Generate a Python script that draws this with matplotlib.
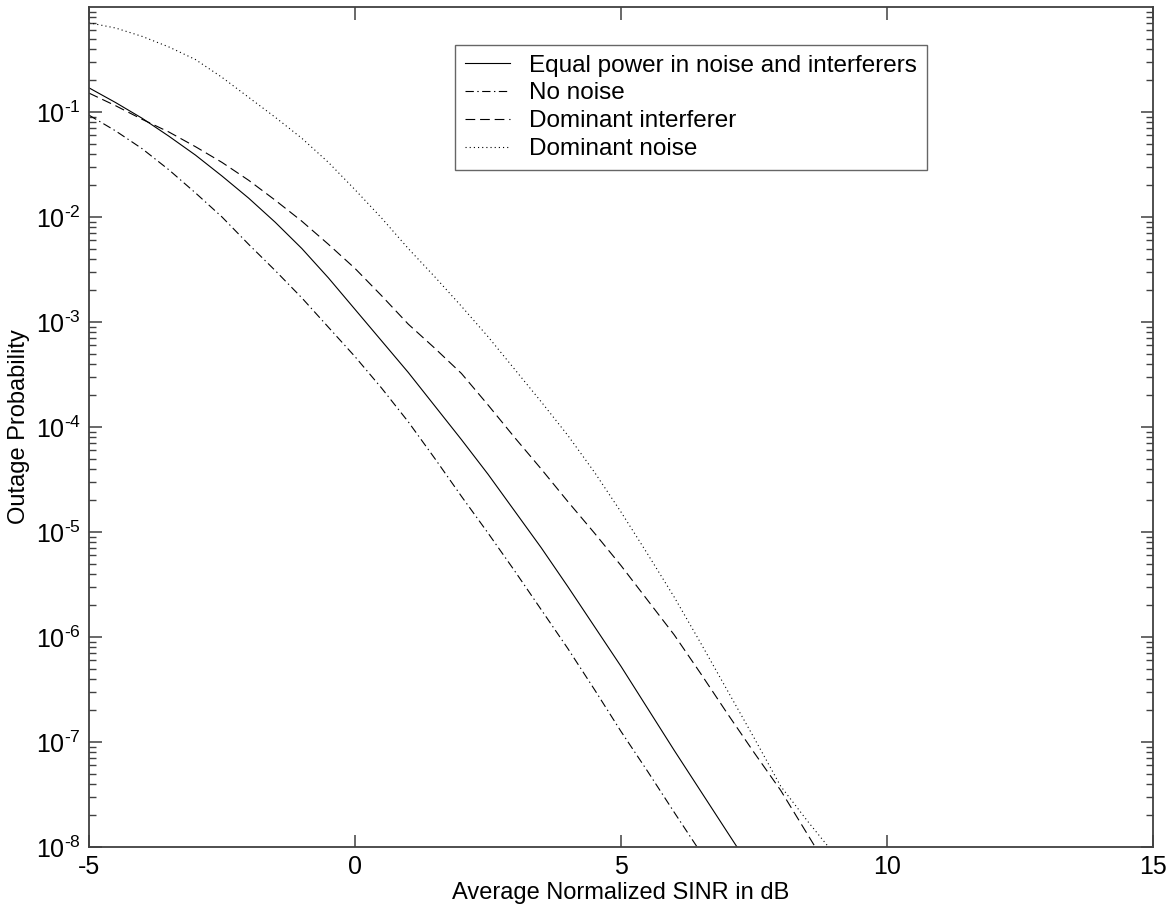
import numpy as np
import matplotlib
matplotlib.use("Agg")
import matplotlib.pyplot as plt
from matplotlib.ticker import LogLocator, NullFormatter, FixedLocator, FuncFormatter

plt.rcParams['font.family'] = ['Liberation Sans', 'DejaVu Sans']
plt.rcParams['mathtext.fontset'] = 'custom'
plt.rcParams['mathtext.rm'] = 'Liberation Sans'
plt.rcParams['axes.unicode_minus'] = False
plt.rcParams['lines.scale_dashes'] = False

# Average normalized SINR (dB) and log10(outage probability)
snr_equal = [-5, -4.5, -4, -3.5, -3, -2.5, -2, -1.5, -1, -0.5, 0, 0.5, 1, 1.5,
             2, 2.5, 3, 3.5, 4, 4.5, 5, 5.5, 6, 6.5, 7, 7.18]
logp_equal = [-0.77, -0.91, -1.06, -1.23, -1.41, -1.61, -1.82, -2.05, -2.30,
              -2.58, -2.88, -3.18, -3.48, -3.80, -4.12, -4.45, -4.80, -5.15,
              -5.52, -5.90, -6.28, -6.68, -7.08, -7.47, -7.86, -8.0]

snr_nonoise = [-5, -4.5, -4, -3.5, -3, -2.5, -2, -1.5, -1, -0.5, 0, 0.5, 1, 1.5,
               2, 2.5, 3, 3.5, 4, 4.5, 5, 5.5, 6, 6.43]
logp_nonoise = [-1.03, -1.18, -1.35, -1.55, -1.77, -2.00, -2.26, -2.51, -2.77,
                -3.05, -3.33, -3.63, -3.95, -4.30, -4.66, -5.01, -5.37, -5.74,
                -6.11, -6.50, -6.90, -7.28, -7.67, -8.0]

snr_interf = [-5, -4.5, -4, -3.5, -3, -2.5, -2, -1.5, -1, -0.5, 0, 0.5, 1, 1.5,
              2, 2.5, 3, 3.5, 4, 4.5, 5, 5.5, 6, 6.5, 7, 7.5, 8, 8.65]
logp_interf = [-0.82, -0.94, -1.07, -1.19, -1.33, -1.48, -1.65, -1.84, -2.04,
               -2.26, -2.49, -2.75, -3.02, -3.25, -3.49, -3.79, -4.10, -4.40,
               -4.71, -5.01, -5.32, -5.65, -5.98, -6.35, -6.73, -7.10, -7.46, -8.0]

snr_noise = [-5, -4.5, -4, -3.5, -3, -2.5, -2, -1.5, -1, -0.5, 0, 0.5, 1, 1.5,
             2, 2.5, 3, 3.5, 4, 4.5, 5, 5.5, 6, 6.5, 7, 7.5, 8, 8.5, 8.9]
logp_noise = [-0.15, -0.20, -0.28, -0.38, -0.50, -0.67, -0.86, -1.05, -1.25,
              -1.48, -1.74, -2.01, -2.30, -2.57, -2.85, -3.14, -3.45, -3.76,
              -4.08, -4.43, -4.81, -5.21, -5.62, -6.06, -6.51, -6.96, -7.42,
              -7.75, -8.0]

labels = ["Equal power in noise and interferers", "No noise",
          "Dominant interferer", "Dominant noise"]

fig = plt.figure(figsize=(11.7, 9.13), dpi=100)
ax = fig.add_axes([0.0761, 0.0723, 0.9094, 0.920])

lw = 0.8
ax.plot(snr_equal, 10.0 ** np.array(logp_equal), color='black', lw=lw,
        linestyle='-', label=labels[0])
ax.plot(snr_nonoise, 10.0 ** np.array(logp_nonoise), color='black', lw=lw,
        dashes=(6, 2.5, 1, 2.5), label=labels[1])
ax.plot(snr_interf, 10.0 ** np.array(logp_interf), color='black', lw=lw,
        dashes=(7, 3.5), label=labels[2])
ax.plot(snr_noise, 10.0 ** np.array(logp_noise), color='black', lw=lw,
        dashes=(0.8, 2.2), label=labels[3])

ax.set_yscale('log')
ax.set_xlim(-5, 15)
ax.set_ylim(1e-8, 1)
ax.xaxis.set_major_locator(FixedLocator([-5, 0, 5, 10, 15]))
ax.yaxis.set_major_locator(FixedLocator([10.0 ** k for k in range(-8, 0)]))
ax.yaxis.set_major_formatter(FuncFormatter(
    lambda v, pos: r"$\mathdefault{10^{\text{-}%d}}$" % round(-np.log10(v))))
ax.yaxis.set_minor_locator(LogLocator(base=10, subs=np.arange(2, 10), numticks=20))
ax.yaxis.set_minor_formatter(NullFormatter())

ax.tick_params(which='both', direction='in', top=True, right=True,
               labelsize=18, colors='#404040', labelcolor='black')
ax.tick_params(which='major', length=9, width=1.1, pad=6)
ax.tick_params(which='minor', length=5, width=1.0)
for s in ax.spines.values():
    s.set_linewidth(1.3)
    s.set_color('#404040')

ax.set_xlabel("Average Normalized SINR in dB", fontsize=17, labelpad=2)
ax.set_ylabel("Outage Probability", fontsize=17, labelpad=4)

leg = ax.legend(loc='upper left', bbox_to_anchor=(0.344, 0.955), fontsize=17.5,
                frameon=True, fancybox=False, handlelength=1.85, handletextpad=0.8,
                labelspacing=0.24, borderpad=0.4, borderaxespad=0)
leg.get_frame().set_edgecolor('#404040')
leg.get_frame().set_linewidth(1.0)

fig.savefig("out.png", dpi=100)
